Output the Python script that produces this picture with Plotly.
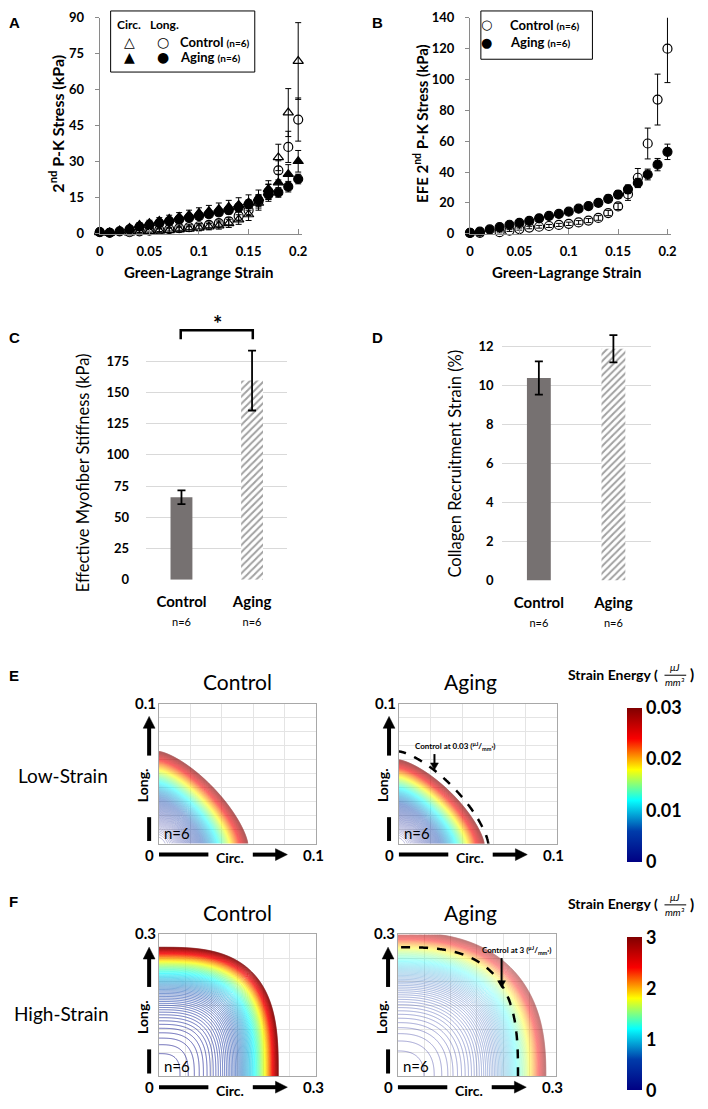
import numpy as np
import plotly.graph_objects as go

FIG_W, FIG_H = 708, 1109
def X(p): return p / FIG_W
def Y(p): return 1 - p / FIG_H
def dom_x(l, r): return [l / FIG_W, r / FIG_W]
def dom_y(t, b): return [1 - b / FIG_H, 1 - t / FIG_H]

# ---------------- data ----------------
strain = [0, 0.01, 0.02, 0.03, 0.04, 0.05, 0.06, 0.07, 0.08, 0.09, 0.10,
          0.11, 0.12, 0.13, 0.14, 0.15, 0.16, 0.17, 0.18, 0.19, 0.20]

# Panel A: 2nd P-K stress (kPa)
a_ctrl_circ = [0.5, 0.3, -0.3, 0.4, 0.8, 1.0, 1.2, 1.4, 1.7, 2.0, 2.4, 2.9, 3.4, 4.3, 5.9, 8.0, 12.8, 17.0, 31.8, 50.5, 72.0]
a_ctrl_circ_err = [0.3, 0.3, 0.4, 0.5, 0.6, 0.7, 0.8, 0.9, 1.0, 1.1, 1.2, 1.3, 1.5, 1.7, 2.0, 2.5, 3.0, 3.5, 5.5, 10.0, 16.0]
a_ctrl_long = [0.6, 0.4, -0.1, 0.6, 1.0, 1.3, 1.6, 1.9, 2.3, 2.7, 3.1, 3.7, 4.4, 5.2, 7.4, 9.8, 13.5, 17.5, 26.4, 36.2, 47.6]
a_ctrl_long_err = [0.3, 0.3, 0.4, 0.5, 0.5, 0.6, 0.7, 0.8, 0.9, 1.0, 1.1, 1.2, 1.3, 1.5, 1.8, 2.2, 2.8, 3.2, 4.0, 6.5, 9.0]
a_aging_circ = [0.8, 0.5, 1.3, 2.4, 3.6, 4.4, 5.3, 6.1, 7.0, 7.8, 8.6, 9.4, 10.2, 11.1, 12.0, 13.0, 14.8, 18.6, 21.3, 24.8, 30.2]
a_aging_circ_err = [0.3, 0.3, 0.6, 0.8, 1.0, 1.2, 1.4, 1.6, 1.8, 2.0, 2.2, 2.4, 2.6, 2.8, 3.0, 3.2, 3.4, 3.5, 3.5, 4.0, 4.5]
a_aging_long = [0.7, 0.4, 1.0, 1.8, 2.9, 3.6, 4.4, 5.2, 5.9, 6.6, 7.3, 8.1, 8.9, 9.8, 11.0, 12.3, 14.0, 16.3, 17.2, 19.6, 22.8]
a_aging_long_err = [0.2, 0.2, 0.4, 0.5, 0.6, 0.7, 0.8, 0.9, 1.0, 1.1, 1.2, 1.3, 1.4, 1.5, 1.6, 1.8, 2.0, 2.0, 2.0, 2.2, 2.0]

# Panel B: EFE 2nd P-K stress (kPa)
b_ctrl = [0.5, 0.6, -0.3, 1.0, 2.0, 3.0, 4.0, 4.5, 5.0, 5.7, 6.4, 7.3, 8.5, 10.2, 13.4, 17.7, 25.6, 36.3, 58.5, 87.0, 120.0]
b_ctrl_err = [0.3, 0.3, 0.4, 0.5, 0.6, 0.7, 0.8, 0.9, 1.0, 1.0, 1.1, 1.2, 1.3, 1.5, 1.7, 2.0, 4.0, 6.0, 10.0, 16.5, 22.0]
b_aging = [0.6, 1.3, 2.8, 4.3, 5.8, 7.0, 8.3, 10.0, 11.5, 12.8, 14.3, 16.2, 17.9, 20.0, 22.6, 25.4, 28.8, 32.9, 38.4, 44.8, 53.1]
b_aging_err = [0.3, 0.4, 0.6, 0.8, 1.0, 1.1, 1.2, 1.3, 1.4, 1.5, 1.7, 1.9, 2.0, 2.2, 2.4, 2.6, 2.8, 3.0, 3.5, 4.0, 5.0]

# Panels C, D
groups = ["Control", "Aging"]
group_n = ["n=6", "n=6"]
stiffness = [66.0, 159.5]
stiffness_err = [5.5, 24.0]
collagen = [10.4, 11.9]
collagen_err = [0.85, 0.7]

# Panels E, F: strain-energy model (outer-contour intercepts [circ, long], shape exponent, stiffening)
low_wmax = 0.03
low_ctrl_int = [0.0566, 0.066]
low_aging_int = [0.054, 0.060]
low_shape = [1.4, 1.4]
low_k = 0.3
low_levels = 240
high_wmax = 3.0
high_ctrl_int = [0.228, 0.273]
high_aging_int = [0.281, 0.305]
high_shape = [3.0, 2.5]
high_k = 2.0
high_levels = 100

FONT = "Lato"
AXC = "#8a8a8a"

fig = go.Figure()

# ---------------- Panel A ----------------
def pts(x, y, err, sym, color, xa, ya, size=9):
    return go.Scatter(x=x, y=y, mode="markers", xaxis=xa, yaxis=ya, cliponaxis=False,
                      marker=dict(symbol=sym, size=size, color=color, line=dict(color="black", width=1.2)),
                      error_y=dict(type="data", array=err, color="black", thickness=1, width=3),
                      showlegend=False, hoverinfo="skip")

fig.add_trace(pts(strain, a_aging_long, a_aging_long_err, "circle", "black", "x", "y"))
fig.add_trace(pts(strain, a_aging_circ, a_aging_circ_err, "triangle-up", "black", "x", "y"))
fig.add_trace(pts(strain, a_ctrl_long, a_ctrl_long_err, "circle-open", "black", "x", "y"))
fig.add_trace(pts(strain, a_ctrl_circ, a_ctrl_circ_err, "triangle-up-open", "black", "x", "y"))

# ---------------- Panel B ----------------
fig.add_trace(pts(strain, b_aging, b_aging_err, "circle", "black", "x2", "y2"))
fig.add_trace(pts(strain, b_ctrl, b_ctrl_err, "circle-open", "black", "x2", "y2"))

# ---------------- Panels C, D ----------------
bar_marker = dict(color=["#767171", "white"],
                  pattern=dict(shape=["", "/"], fgcolor="#767171", bgcolor="white", size=5, solidity=0.4),
                  line=dict(width=0))
fig.add_trace(go.Bar(x=groups, y=stiffness, xaxis="x3", yaxis="y3", width=0.31, marker=bar_marker,
                     error_y=dict(type="data", array=stiffness_err, color="black", thickness=1.8, width=4),
                     showlegend=False, hoverinfo="skip", cliponaxis=False))
fig.add_trace(go.Bar(x=groups, y=collagen, xaxis="x4", yaxis="y4", width=0.32, marker=bar_marker,
                     error_y=dict(type="data", array=collagen_err, color="black", thickness=1.8, width=4),
                     showlegend=False, hoverinfo="skip", cliponaxis=False))

# ---------------- Panels E, F ----------------
def field(inter, p, k, wmax, lim, n=281):
    xs = np.linspace(0, lim, n)
    ys = np.linspace(0, lim, n)
    Xg, Yg = np.meshgrid(xs, ys)
    r = ((Xg / inter[0]) ** p + (Yg / inter[1]) ** p) ** (1.0 / p)
    W = wmax * (np.exp(k * r ** 2) - 1) / (np.exp(k) - 1)
    return xs, ys, W

def contour(f, wmax, nlev, xa, ya, op, lw):
    xs, ys, W = f
    return go.Contour(x=xs, y=ys, z=W, xaxis=xa, yaxis=ya, autocontour=False,
                      contours=dict(start=wmax / nlev, end=wmax * (1 + 1e-6), size=wmax / nlev,
                                    coloring="lines", showlabels=False),
                      colorscale="Jet", zmin=0, zmax=wmax, line=dict(width=lw, smoothing=1),
                      showscale=False, opacity=op, hoverinfo="skip")

def dashed(f, wmax, xa, ya):
    xs, ys, W = f
    return go.Contour(x=xs, y=ys, z=W, xaxis=xa, yaxis=ya, autocontour=False,
                      contours=dict(start=wmax, end=wmax, size=wmax, coloring="none", showlabels=False),
                      line=dict(color="black", width=2.5, dash="dash"), showscale=False, hoverinfo="skip")

def cbar_dummy(f, wmax, xa, ya, top, bottom, ticks):
    xs, ys, W = f
    return go.Heatmap(x=xs, y=ys, z=W, xaxis=xa, yaxis=ya, zmin=0, zmax=wmax, colorscale="Jet",
                      opacity=0, hoverinfo="skip", showscale=True,
                      colorbar=dict(x=X(631), xanchor="left", xpad=0, ypad=0,
                                    y=Y((top + bottom) / 2), yanchor="middle",
                                    len=(bottom - top) / FIG_H, lenmode="fraction",
                                    thickness=15, thicknessmode="pixels", outlinewidth=0,
                                    tickvals=ticks, ticktext=[("%g" % t) for t in ticks], ticks="",
                                    tickfont=dict(family=FONT, size=18, color="black", weight="bold")))

f_low_c = field(low_ctrl_int, low_shape[0], low_k, low_wmax, 0.1)
f_low_a = field(low_aging_int, low_shape[1], low_k, low_wmax, 0.1)
f_high_c = field(high_ctrl_int, high_shape[0], high_k, high_wmax, 0.3)
f_high_a = field(high_aging_int, high_shape[1], high_k, high_wmax, 0.3)

fig.add_trace(cbar_dummy(f_low_c, low_wmax, "x5", "y5", 710, 866, [0, 0.01, 0.02, 0.03]))
fig.add_trace(cbar_dummy(f_high_c, high_wmax, "x7", "y7", 943, 1098, [0, 1, 2, 3]))
fig.add_trace(contour(f_low_c, low_wmax, low_levels, "x5", "y5", 0.68, 0.4))
fig.add_trace(contour(f_low_a, low_wmax, low_levels, "x6", "y6", 0.68, 0.4))
fig.add_trace(dashed(f_low_c, low_wmax, "x6", "y6"))
fig.add_trace(contour(f_high_c, high_wmax, high_levels, "x7", "y7", 1.0, 0.6))
fig.add_trace(contour(f_high_a, high_wmax, high_levels, "x8", "y8", 0.6, 0.6))
fig.add_trace(dashed(f_high_c, high_wmax, "x8", "y8"))

# ---------------- layout ----------------
tickf = dict(family=FONT, size=13, color="black", weight="bold")
layout = dict(width=FIG_W, height=FIG_H, margin=dict(l=0, r=0, t=0, b=0),
              paper_bgcolor="white", plot_bgcolor="white", showlegend=False,
              font=dict(family=FONT, color="black"))

def line_axes(xd, yd, ymax, dtick, xname, yname):
    xa = dict(domain=xd, range=[0, 0.204], tickvals=[0, 0.05, 0.1, 0.15, 0.2],
              ticktext=["0", "0.05", "0.1", "0.15", "0.2"], ticks="inside", ticklen=5, tickcolor=AXC,
              showline=True, linecolor=AXC, linewidth=1, showgrid=False, zeroline=False,
              tickfont=tickf, anchor=yname, ticklabelstandoff=6)
    ya = dict(domain=yd, range=[0, ymax], dtick=dtick, ticks="outside", ticklen=4, tickcolor=AXC,
              showline=True, linecolor=AXC, linewidth=1, showgrid=False, zeroline=False,
              tickfont=tickf, anchor=xname, ticklabelstandoff=8)
    return xa, ya

layout["xaxis"], layout["yaxis"] = line_axes(dom_x(97, 302), dom_y(10, 229), 90, 15, "x", "y")
layout["xaxis2"], layout["yaxis2"] = line_axes(dom_x(472, 676), dom_y(10, 229), 140, 20, "x2", "y2")

def bar_axes(xd, yd, yrange, tickvals, xname, yname, standoff):
    xa = dict(domain=xd, type="category", showline=False, ticks="", showgrid=False, zeroline=False,
              tickvals=groups,
              ticktext=["<b>%s</b><br><span style='font-size:11px'>%s</span>" % (g, n) for g, n in zip(groups, group_n)],
              tickfont=dict(family=FONT, size=15, color="black"), anchor=yname, ticklabelstandoff=11)
    ya = dict(domain=yd, range=yrange, tickvals=tickvals, showgrid=True, gridcolor="#d9d9d9", gridwidth=1,
              zeroline=False, showline=False, ticks="", tickfont=tickf, anchor=xname,
              ticklabelstandoff=standoff)
    return xa, ya

layout["xaxis3"], layout["yaxis3"] = bar_axes(dom_x(144, 287), dom_y(333, 580), [0, 195],
                                              [0, 25, 50, 75, 100, 125, 150, 175], "x3", "y3", 16)
layout["xaxis4"], layout["yaxis4"] = bar_axes(dom_x(504, 655), dom_y(324, 581), [0, 13],
                                              [0, 2, 4, 6, 8, 10, 12], "x4", "y4", 7)

frames = {
    "5": (157, 706, 316, 848, 0.1, 0.02, 0.01),
    "6": (400, 706, 560, 848, 0.1, 0.02, 0.01),
    "7": (157, 940, 316, 1084, 0.3, 0.05, 0.05),
    "8": (399, 940, 559, 1084, 0.3, 0.05, 0.05),
}
for k_, (l, t, r, b, lim, dx, dy) in frames.items():
    layout["xaxis" + k_] = dict(domain=dom_x(l, r), range=[0, lim], dtick=dx, showgrid=True, gridcolor="#e4e4e4",
                                showline=True, mirror=True, linecolor="#a8a8a8", linewidth=1, zeroline=False,
                                showticklabels=False, ticks="", anchor="y" + k_)
    layout["yaxis" + k_] = dict(domain=dom_y(t, b), range=[0, lim], dtick=dy, showgrid=True, gridcolor="#e4e4e4",
                                showline=True, mirror=True, linecolor="#a8a8a8", linewidth=1, zeroline=False,
                                showticklabels=False, ticks="", anchor="x" + k_)

fig.update_layout(**layout)

# ---------------- annotations & shapes ----------------
anns = []
shapes = []

def ann(text, x, y, size=14, bold=False, angle=0, xanchor="center", yanchor="middle", family=FONT, italic=False):
    anns.append(dict(text=text, x=X(x), y=Y(y), xref="paper", yref="paper", showarrow=False,
                     xanchor=xanchor, yanchor=yanchor, textangle=angle,
                     font=dict(family=family, size=size, color="black",
                               weight="bold" if bold else "normal", style="italic" if italic else "normal")))

def seg(x0, y0, x1, y1, width=4):
    shapes.append(dict(type="line", xref="paper", yref="paper", x0=X(x0), y0=Y(y0), x1=X(x1), y1=Y(y1),
                       line=dict(color="black", width=width)))

def tri(pts_):
    path = "M " + " L ".join("%f,%f" % (X(a), Y(b)) for a, b in pts_) + " Z"
    shapes.append(dict(type="path", xref="paper", yref="paper", path=path,
                       fillcolor="black", line=dict(color="black", width=0.5)))

def harrow(x0, x1, y, width=4, hl=12, hw=6):
    seg(x0, y, x1 - hl + 1, y, width)
    tri([(x1, y), (x1 - hl, y - hw), (x1 - hl, y + hw)])

def varrow_up(x, y_tail, y_head, width=4, hl=12, hw=6):
    seg(x, y_tail, x, y_head + hl - 1, width)
    tri([(x, y_head), (x - hw, y_head + hl), (x + hw, y_head + hl)])

def varrow_down(x, y_tail, y_head, width=2, hl=7, hw=4):
    seg(x, y_tail, x, y_head - hl + 1, width)
    tri([(x, y_head), (x - hw, y_head - hl), (x + hw, y_head - hl)])

# panel letters
for letter, (lx, ly) in {"A": (11, 15), "B": (378, 15), "C": (11, 334), "D": (378, 334),
                         "E": (10, 677), "F": (10, 907)}.items():
    ann(letter, lx, ly, size=15, bold=True, family="Liberation Sans")

# A/B titles
ann("2<sup>nd</sup> P-K Stress (kPa)", 53, 117, size=16, bold=True, angle=-90)
ann("EFE 2<sup>nd</sup> P-K Stress (kPa)", 422, 117, size=15, bold=True, angle=-90)
ann("Green-Lagrange Strain", 197, 268, size=15, bold=True)
ann("Green-Lagrange Strain", 570, 268, size=15, bold=True)

# legend A
shapes.append(dict(type="rect", xref="paper", yref="paper", x0=X(108), x1=X(254), y0=Y(65), y1=Y(3),
                   line=dict(color="black", width=1), fillcolor="white"))
ann("Circ.", 127, 17, size=12, bold=True)
ann("Long.", 163, 17, size=12, bold=True)
ann("△", 127, 34, size=14, family="DejaVu Sans")
ann("○", 161, 34, size=14, family="DejaVu Sans")
ann("▲", 127, 50, size=14, family="DejaVu Sans")
ann("●", 161, 50, size=14, family="DejaVu Sans")
ann("Control <span style='font-size:10px'>(n=6)</span>", 176, 34, size=13, bold=True, xanchor="left")
ann("Aging <span style='font-size:10px'>(n=6)</span>", 176, 50, size=13, bold=True, xanchor="left")

# legend B
shapes.append(dict(type="rect", xref="paper", yref="paper", x0=X(483), x1=X(596), y0=Y(52), y1=Y(3),
                   line=dict(color="black", width=1), fillcolor="white"))
ann("○", 489, 17, size=13, family="DejaVu Sans")
ann("●", 489, 35, size=13, family="DejaVu Sans")
ann("Control <span style='font-size:10px'>(n=6)</span>", 510, 17, size=13, bold=True, xanchor="left")
ann("Aging <span style='font-size:10px'>(n=6)</span>", 510, 35, size=13, bold=True, xanchor="left")

# C/D titles and significance
ann("Effective Myofiber Stiffness (kPa)", 80, 471, size=16.5, angle=-90)
ann("Collagen Recruitment Strain (%)", 457, 462, size=16.5, angle=-90)
shapes.append(dict(type="path", xref="paper", yref="paper",
                   path="M %f,%f L %f,%f L %f,%f L %f,%f" % (X(179), Y(336), X(179), Y(327), X(252), Y(327), X(252), Y(336)),
                   line=dict(color="black", width=2.5)))
ann("*", 216, 320, size=22, bold=True)

# E/F titles and row labels
for (cx, cy, txt) in [(236, 683, "Control"), (472, 683, "Aging"), (236, 918, "Control"), (472, 918, "Aging")]:
    ann(txt, cx, cy, size=21)
ann("Low-Strain", 60, 779, size=19)
ann("High-Strain", 58, 1020, size=19)

# contour-panel decorations
for k_, (l, t, r, b, lim, dx, dy) in frames.items():
    h = b - t
    lx = l - 10
    lab = "%g" % lim
    ann(lab, lx - 4, t - 1, size=15, bold=True)
    ann("0", lx, b + 11, size=15, bold=True)
    ann(lab, r - 3, b + 11, size=15, bold=True)
    seg(l, b + 11, l + 50, b + 11)
    ann("Circ.", l + 72, b + 14, size=14, bold=True)
    harrow(l + 95, l + 130, b + 11)
    varrow_up(lx, t + 0.37 * h, t + 0.09 * h)
    ann("Long.", lx - 6, t + 0.58 * h, size=14, bold=True, angle=-90)
    seg(lx, b - 0.19 * h, lx, b - 0.02 * h)
    ann("n=6", l + 18, b - 11, size=15)

# dashed-line call-outs
ann("Control at 0.03 (<sup>μJ</sup>/<sub>mm³</sub>)", 457, 749, size=8, bold=True)
varrow_down(436, 757, 773)
ann("Control at 3 (<sup>μJ</sup>/<sub>mm³</sub>)", 519, 956, size=8, bold=True)
varrow_down(504, 964, 994)

# colorbar titles
for ty in (676, 909):
    ann("Strain Energy (", 664, ty, size=14, bold=True, xanchor="right")
    ann("μJ", 680, ty - 7, size=10, italic=True)
    ann("mm³", 680, ty + 8, size=10, italic=True)
    seg(669, ty + 1, 691, ty + 1, width=1)
    ann(")", 697, ty, size=15, bold=True)

fig.update_layout(annotations=anns, shapes=shapes)
fig.write_html("out.html", config={"displayModeBar": False},
               post_script="document.body.style.margin='0';document.body.style.overflow='hidden';")
